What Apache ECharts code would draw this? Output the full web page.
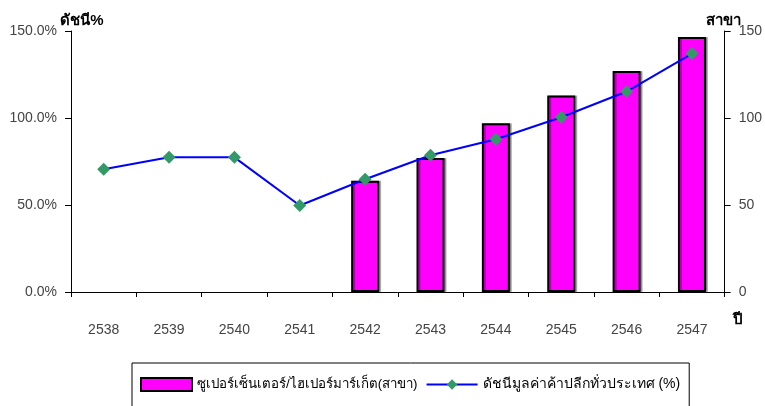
<!DOCTYPE html>
<html>
<head>
<meta charset="utf-8">
<script src="https://cdn.jsdelivr.net/npm/echarts@6/dist/echarts.min.js"></script>
<style>html,body{margin:0;padding:0;background:#fff}#c{width:765px;height:406px}</style>
</head>
<body>
<div id="c"></div>
<script>
const years = ['2538','2539','2540','2541','2542','2543','2544','2545','2546','2547'];
const branches = [null, null, null, null, 64, 77, 97, 113, 127, 146.5];
const retailIndex = [70.5, 77.4, 77.4, 49.7, 64.8, 78.6, 87.8, 100.4, 115.2, 137];
const leftTicks = { min: 0, max: 150, interval: 50 };
const rightTicks = { min: 0, max: 150, interval: 50 };
const barName = 'ซูเปอร์เซ็นเตอร์/ไฮเปอร์มาร์เก็ต(สาขา)';
const lineName = 'ดัชนีมูลค่าค้าปลีกทั่วประเทศ (%)';

const FONT = '"Liberation Sans", Arial, "Noto Sans", sans-serif';
const chart = echarts.init(document.getElementById('c'), null, {renderer: 'canvas'});
chart.setOption({
  animation: false,
  backgroundColor: '#fff',
  textStyle: { fontFamily: FONT },
  grid: { left: 71, right: 38, top: 31, bottom: 114, containLabel: false },
  legend: {
    left: 132, top: 363,
    padding: [14, 9, 40, 8],
    borderColor: '#000', borderWidth: 1,
    itemWidth: 51, itemHeight: 13, itemGap: 8,
    textStyle: { fontSize: 14, color: '#000', fontFamily: FONT },
    data: [
      { name: barName, icon: 'rect', textStyle: { fontSize: 13.3 } },
      { name: lineName, textStyle: { fontSize: 14 } }
    ]
  },
  xAxis: {
    type: 'category', data: years, boundaryGap: true,
    name: 'ปี', nameLocation: 'end', nameGap: 8, nameMoveOverlap: false,
    nameTextStyle: { fontSize: 15, fontWeight: 'bold', color: '#000', verticalAlign: 'top', padding: [20, 0, 0, 0] },
    axisLine: { lineStyle: { color: '#000', width: 1 } },
    axisTick: { show: true, alignWithLabel: false, length: 5, lineStyle: { color: '#000' } },
    axisLabel: { margin: 31, fontSize: 14, color: '#444' },
    splitLine: { show: false }
  },
  yAxis: [
    {
      type: 'value', min: leftTicks.min, max: leftTicks.max, interval: leftTicks.interval,
      name: 'ดัชนี%', nameLocation: 'end', nameGap: 18, nameMoveOverlap: false,
      nameTextStyle: { fontSize: 15, fontWeight: 'bold', color: '#000', align: 'center', verticalAlign: 'top', padding: [0, 0, 0, 22] },
      axisLine: { show: true, lineStyle: { color: '#000' } },
      axisTick: { show: true, length: 6, lineStyle: { color: '#000' } },
      axisLabel: { margin: 14, fontSize: 14, color: '#444', formatter: v => v.toFixed(1) + '%' },
      splitLine: { show: false }
    },
    {
      type: 'value', position: 'right', min: rightTicks.min, max: rightTicks.max, interval: rightTicks.interval,
      name: 'สาขา', nameLocation: 'end', nameGap: 18, nameMoveOverlap: false,
      nameTextStyle: { fontSize: 15, fontWeight: 'bold', color: '#000', align: 'center', verticalAlign: 'top', padding: [0, 2, 0, 0] },
      axisLine: { show: true, lineStyle: { color: '#000' } },
      axisTick: { show: true, length: 6, lineStyle: { color: '#000' } },
      axisLabel: { margin: 14, fontSize: 14, color: '#444' },
      splitLine: { show: false }
    }
  ],
  series: [
    {
      name: barName, type: 'bar', yAxisIndex: 1, data: branches, barWidth: 28,
      itemStyle: { color: '#FF00FF', borderColor: '#000', borderWidth: 2,
        shadowColor: 'rgba(0,0,0,0.3)', shadowOffsetX: 2, shadowOffsetY: 0, shadowBlur: 0 },
      z: 2
    },
    {
      name: lineName, type: 'line', yAxisIndex: 0, data: retailIndex,
      symbol: 'diamond', symbolSize: 13,
      lineStyle: { color: '#0000FF', width: 2 },
      itemStyle: { color: '#339966', borderWidth: 0 },
      z: 3
    }
  ]
});
</script>
</body>
</html>
